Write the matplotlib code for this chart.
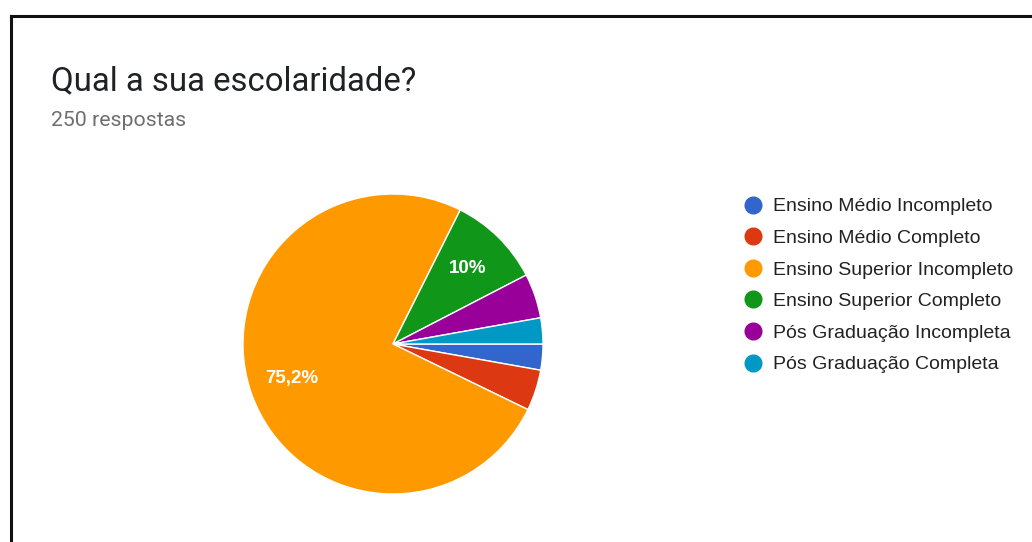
import matplotlib
matplotlib.use("Agg")
import matplotlib.pyplot as plt
from matplotlib.lines import Line2D

# Survey responses (250 total) per education level
categories = [
    "Ensino Médio Incompleto",
    "Ensino Médio Completo",
    "Ensino Superior Incompleto",
    "Ensino Superior Completo",
    "Pós Graduação Incompleta",
    "Pós Graduação Completa",
]
percentages = [2.8, 4.4, 75.2, 10.0, 4.8, 2.8]
colors = ["#3366cc", "#dc3912", "#ff9900", "#109618", "#990099", "#0099c6"]

title = "Qual a sua escolaridade?"
subtitle = "250 respostas"

W, H = 1032, 542
fig = plt.figure(figsize=(W / 100, H / 100), dpi=100)
fig.patch.set_facecolor("white")

# Black frame lines on top and left
fig.add_artist(Line2D([11 / W, 1], [1 - 16 / H, 1 - 16 / H], color="#111111", lw=2.2))
fig.add_artist(Line2D([11 / W, 11 / W], [0, 1 - 16 / H], color="#111111", lw=2.2))

fig.text(51 / W, 1 - 90 / H, title, fontsize=23.7, family="Roboto", color="#202124",
         va="baseline", ha="left")
fig.text(51 / W, 1 - 126 / H, subtitle, fontsize=15.3, family="Roboto", color="#6f6f6f",
         va="baseline", ha="left")

# Pie
cx, cy, r = 393, 344, 150
ax = fig.add_axes([(cx - r) / W, (H - cy - r) / H, 2 * r / W, 2 * r / H])


def fmt(p):
    if p < 9.5:
        return ""
    s = f"{p:.1f}".rstrip("0").rstrip(".")
    return s.replace(".", ",") + "%"


wedges, texts, autotexts = ax.pie(
    percentages, colors=colors, startangle=0, counterclock=False,
    autopct=fmt, pctdistance=0.71, radius=1.0,
    wedgeprops=dict(edgecolor="white", linewidth=1.0),
    textprops=dict(color="white", fontsize=13.5, fontweight="bold", family="Liberation Sans"),
)
ax.set_xlim(-1, 1)
ax.set_ylim(-1, 1)
ax.set_aspect("equal")
ax.axis("off")

# Legend
handles = [Line2D([], [], marker="o", linestyle="none", markersize=12,
                  markerfacecolor=c, markeredgecolor=c) for c in colors]
fig.legend(handles, categories, loc="upper left", bbox_to_anchor=(730 / W, 1 - 188 / H),
           frameon=False, prop=dict(family="Liberation Sans", size=14),
           labelspacing=0.72, handletextpad=0.3, handlelength=1.4, borderpad=0,
           labelcolor="#222222")

fig.savefig("out.png", dpi=100, facecolor="white")
